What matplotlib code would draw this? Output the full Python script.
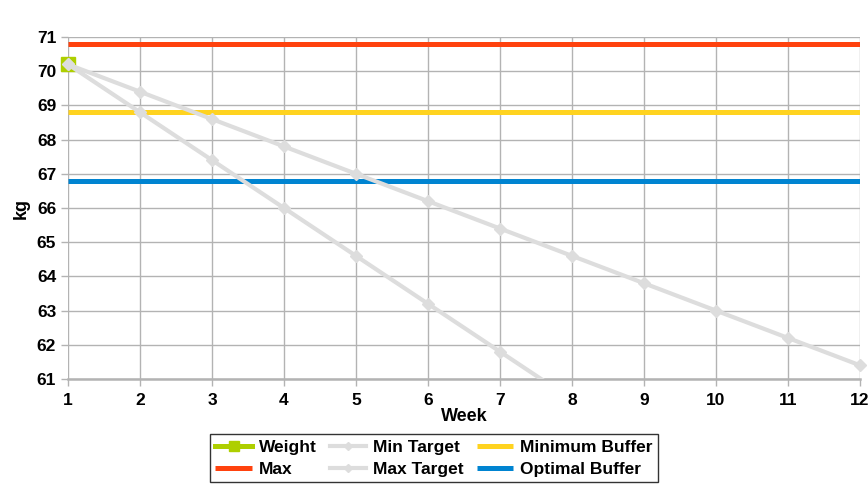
import matplotlib
matplotlib.use("Agg")
import matplotlib.pyplot as plt
from matplotlib.ticker import MultipleLocator

weeks = [1, 2, 3, 4, 5, 6, 7, 8, 9, 10, 11, 12]
weight_weeks = [1]
weight = [70.2]
min_target = [70.2, 69.4, 68.6, 67.8, 67.0, 66.2, 65.4, 64.6, 63.8, 63.0, 62.2, 61.4]
max_target = [70.2, 68.8, 67.4, 66.0, 64.6, 63.2, 61.8, 60.4, 59.0, 57.6, 56.2, 54.8]
max_val = [70.8] * 12
min_buffer = [68.8] * 12
opt_buffer = [66.8] * 12

plt.rcParams['font.family'] = ['Liberation Sans', 'DejaVu Sans']
plt.rcParams['font.weight'] = 'bold'

fig = plt.figure(figsize=(8.68, 4.9), dpi=100)
ax = fig.add_axes([0.0783, 0.2265, 0.9125, 0.698])

gray = '#dddddd'
lw_c = 3.6
ax.plot(weeks, max_val, color='#ff420e', lw=lw_c, label='Max', zorder=3, solid_capstyle='butt')
ax.plot(weeks, min_buffer, color='#ffd320', lw=lw_c, label='Minimum Buffer', zorder=3, solid_capstyle='butt')
ax.plot(weeks, opt_buffer, color='#0084d1', lw=lw_c, label='Optimal Buffer', zorder=3, solid_capstyle='butt')
ax.plot(weight_weeks, weight, color='#aecf00', lw=lw_c, marker='s', ms=10, label='Weight', zorder=4, clip_on=False)
ax.plot(weeks, min_target, color=gray, lw=3, marker='D', ms=6, label='Min Target', zorder=5, clip_on=False)
ax.plot(weeks, max_target, color=gray, lw=3, marker='D', ms=6, label='Max Target', zorder=5)

ax.set_xlim(1, 12)
ax.set_ylim(61, 71)
ax.xaxis.set_major_locator(MultipleLocator(1))
ax.yaxis.set_major_locator(MultipleLocator(1))
ax.grid(True, color='#b3b3b3', lw=1)
ax.set_axisbelow(True)
for s in ['top', 'right', 'left']:
    ax.spines[s].set_visible(False)
ax.spines['bottom'].set_color('#b3b3b3')
ax.spines['bottom'].set_linewidth(1.8)
ax.tick_params(axis='both', colors='#b3b3b3', labelcolor='black', labelsize=12.5, length=5, width=1)
ax.tick_params(axis='x', pad=5)
for lab in ax.get_xticklabels() + ax.get_yticklabels():
    lab.set_fontweight('bold')

ax.set_xlabel('Week', fontsize=13, fontweight='bold', labelpad=0)
ax.xaxis.set_label_coords(0.5, -0.085)
ax.set_ylabel('kg', fontsize=13, fontweight='bold', labelpad=5)

handles, labels = ax.get_legend_handles_labels()
order = ['Weight', 'Max', 'Min Target', 'Max Target', 'Minimum Buffer', 'Optimal Buffer']
hmap = dict(zip(labels, handles))
leg = fig.legend([hmap[o] for o in order], order, loc='center', bbox_to_anchor=(0.5, 0.065),
                 ncol=3, frameon=True, fancybox=False, edgecolor='black', markerscale=0.75,
                 handlelength=2.1, columnspacing=0.75, labelspacing=0.38, borderpad=0.3,
                 handletextpad=0.4, borderaxespad=0, prop={'weight': 'bold', 'size': 12.5})
leg.get_frame().set_linewidth(1)

fig.savefig('out.png', dpi=100)
